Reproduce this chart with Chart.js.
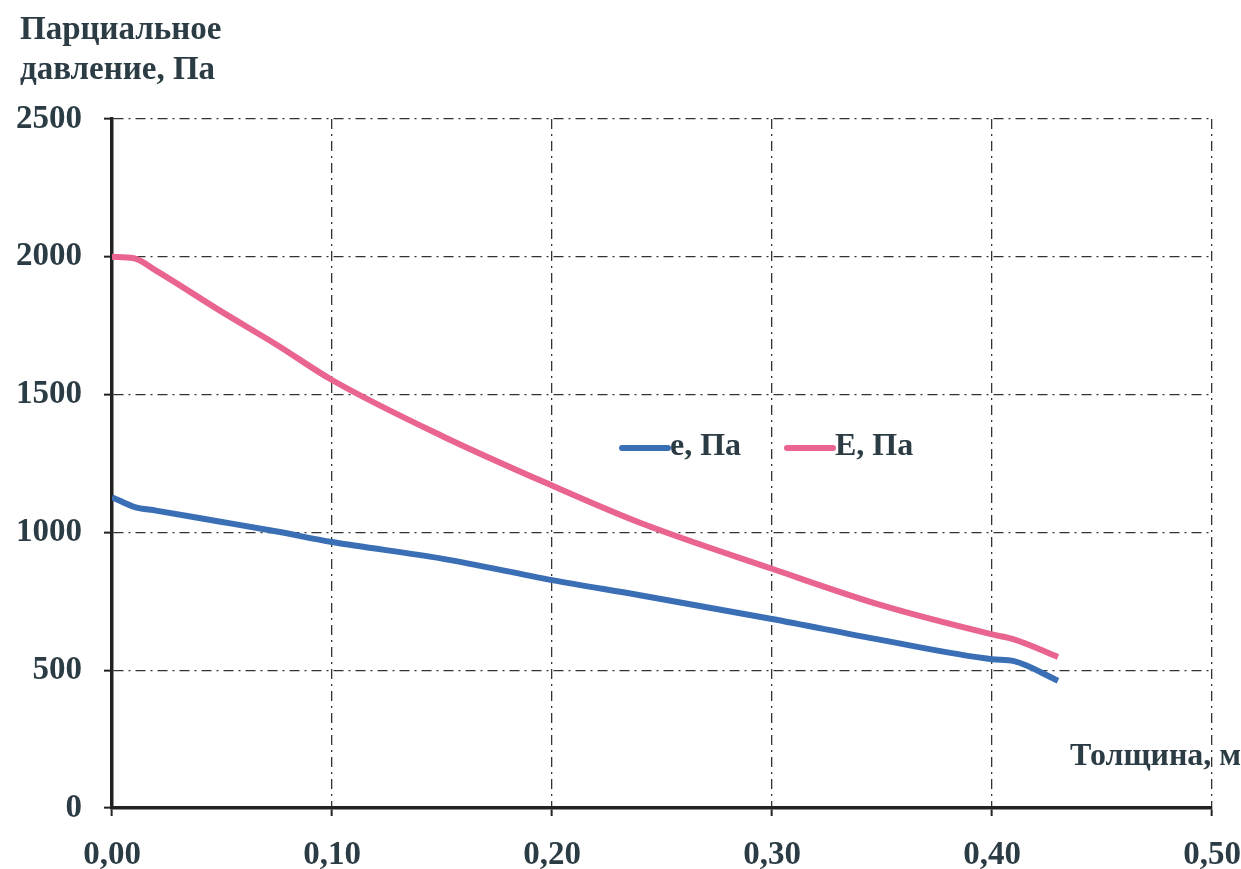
<!DOCTYPE html>
<html>
<head>
<meta charset="utf-8">
<script src="https://cdn.jsdelivr.net/npm/chart.js@4/dist/chart.umd.min.js"></script>
<style>
  body { margin: 0; background: #fff; }
  #wrap { width: 1241px; height: 869px; position: relative; }
</style>
</head>
<body>
<div id="wrap"><canvas id="chart" width="1241" height="869"></canvas></div>
<script>
// Data
const thickness = [0, 0.01, 0.02, 0.05, 0.075, 0.1, 0.15, 0.2, 0.24, 0.3, 0.35, 0.4, 0.41, 0.43];
const ePa = [1128, 1093, 1079, 1038, 1003, 965, 905, 827, 772, 686, 609, 540, 533, 462];
const EPa = [2000, 1995, 1950, 1800, 1680, 1553, 1350, 1170, 1035, 868, 735, 630, 612, 548];
const xTicks = [0, 0.1, 0.2, 0.3, 0.4, 0.5];
const yTicks = [0, 500, 1000, 1500, 2000, 2500];

const textColor = '#2b3c44';
const font = 'Liberation Serif';

function points(ys) {
    return thickness.map((x, i) => ({ x: x, y: ys[i] }));
}

// Titles and the inner legend
const extraText = {
    id: 'extraText',
    afterDraw(chart) {
        const ctx = chart.ctx;
        ctx.save();
        ctx.fillStyle = textColor;
        ctx.font = `bold 33px "${font}"`;
        ctx.textBaseline = 'middle';
        ctx.textAlign = 'left';
        ctx.fillText('Парциальное', 20, 30);
        ctx.fillText('давление, Па', 20, 70);
        ctx.font = `bold 32px "${font}"`;
        ctx.fillText('Толщина, м', 1070, 757);

        // legend
        const items = [
            { label: 'e, Па', color: '#3b6fb5', x: 622 },
            { label: 'E, Па', color: '#e9648e', x: 787 }
        ];
        items.forEach(it => {
            ctx.strokeStyle = it.color;
            ctx.lineWidth = 6;
            ctx.lineCap = 'round';
            ctx.beginPath();
            ctx.moveTo(it.x, 448);
            ctx.lineTo(it.x + 46, 448);
            ctx.stroke();
            ctx.fillStyle = textColor;
            ctx.fillText(it.label, it.x + 48, 447);
        });
        ctx.restore();
    }
};

new Chart(document.getElementById('chart'), {
    type: 'line',
    data: {
        datasets: [
            {
                label: 'e, Па',
                data: points(ePa),
                borderColor: '#3b6fb5',
                borderWidth: 6,
                pointRadius: 0,
                cubicInterpolationMode: 'monotone'
            },
            {
                label: 'E, Па',
                data: points(EPa),
                borderColor: '#e9648e',
                borderWidth: 6,
                pointRadius: 0,
                cubicInterpolationMode: 'monotone'
            }
        ]
    },
    options: {
        responsive: false,
        animation: false,
        layout: { padding: { top: 119, right: 29, left: 0, bottom: 0 } },
        plugins: {
            legend: { display: false },
            tooltip: { enabled: false }
        },
        scales: {
            x: {
                type: 'linear',
                min: 0,
                max: 0.5,
                afterBuildTicks(axis) { axis.ticks = xTicks.map(v => ({ value: v })); },
                afterFit(axis) {
                    axis.height = 61;
                    axis.paddingLeft = 0;
                    axis.paddingRight = 0;
                },
                ticks: {
                    color: textColor,
                    font: { family: font, size: 33, weight: 'bold' },
                    padding: 20,
                    maxRotation: 0,
                    callback: v => v.toFixed(2).replace('.', ',')
                },
                grid: {
                    color: '#333',
                    lineWidth: 1.3,
                    tickLength: 8,
                    tickColor: '#222',
                    tickWidth: 2
                },
                border: { display: true, color: '#222', width: 3.5, dash: [10, 5, 2, 5] }
            },
            y: {
                min: 0,
                max: 2500,
                afterBuildTicks(axis) { axis.ticks = yTicks.map(v => ({ value: v })); },
                afterFit(axis) {
                    axis.width = 112;
                    axis.paddingTop = 0;
                    axis.paddingBottom = 0;
                },
                ticks: {
                    color: textColor,
                    font: { family: font, size: 33, weight: 'bold' },
                    padding: 22,
                    callback: v => String(v)
                },
                grid: {
                    color: '#333',
                    lineWidth: 1.3,
                    tickLength: 8,
                    tickColor: '#222',
                    tickWidth: 2
                },
                border: { display: true, color: '#222', width: 3.5, dash: [10, 5, 2, 5] }
            }
        }
    },
    plugins: [extraText]
});
</script>
</body>
</html>
